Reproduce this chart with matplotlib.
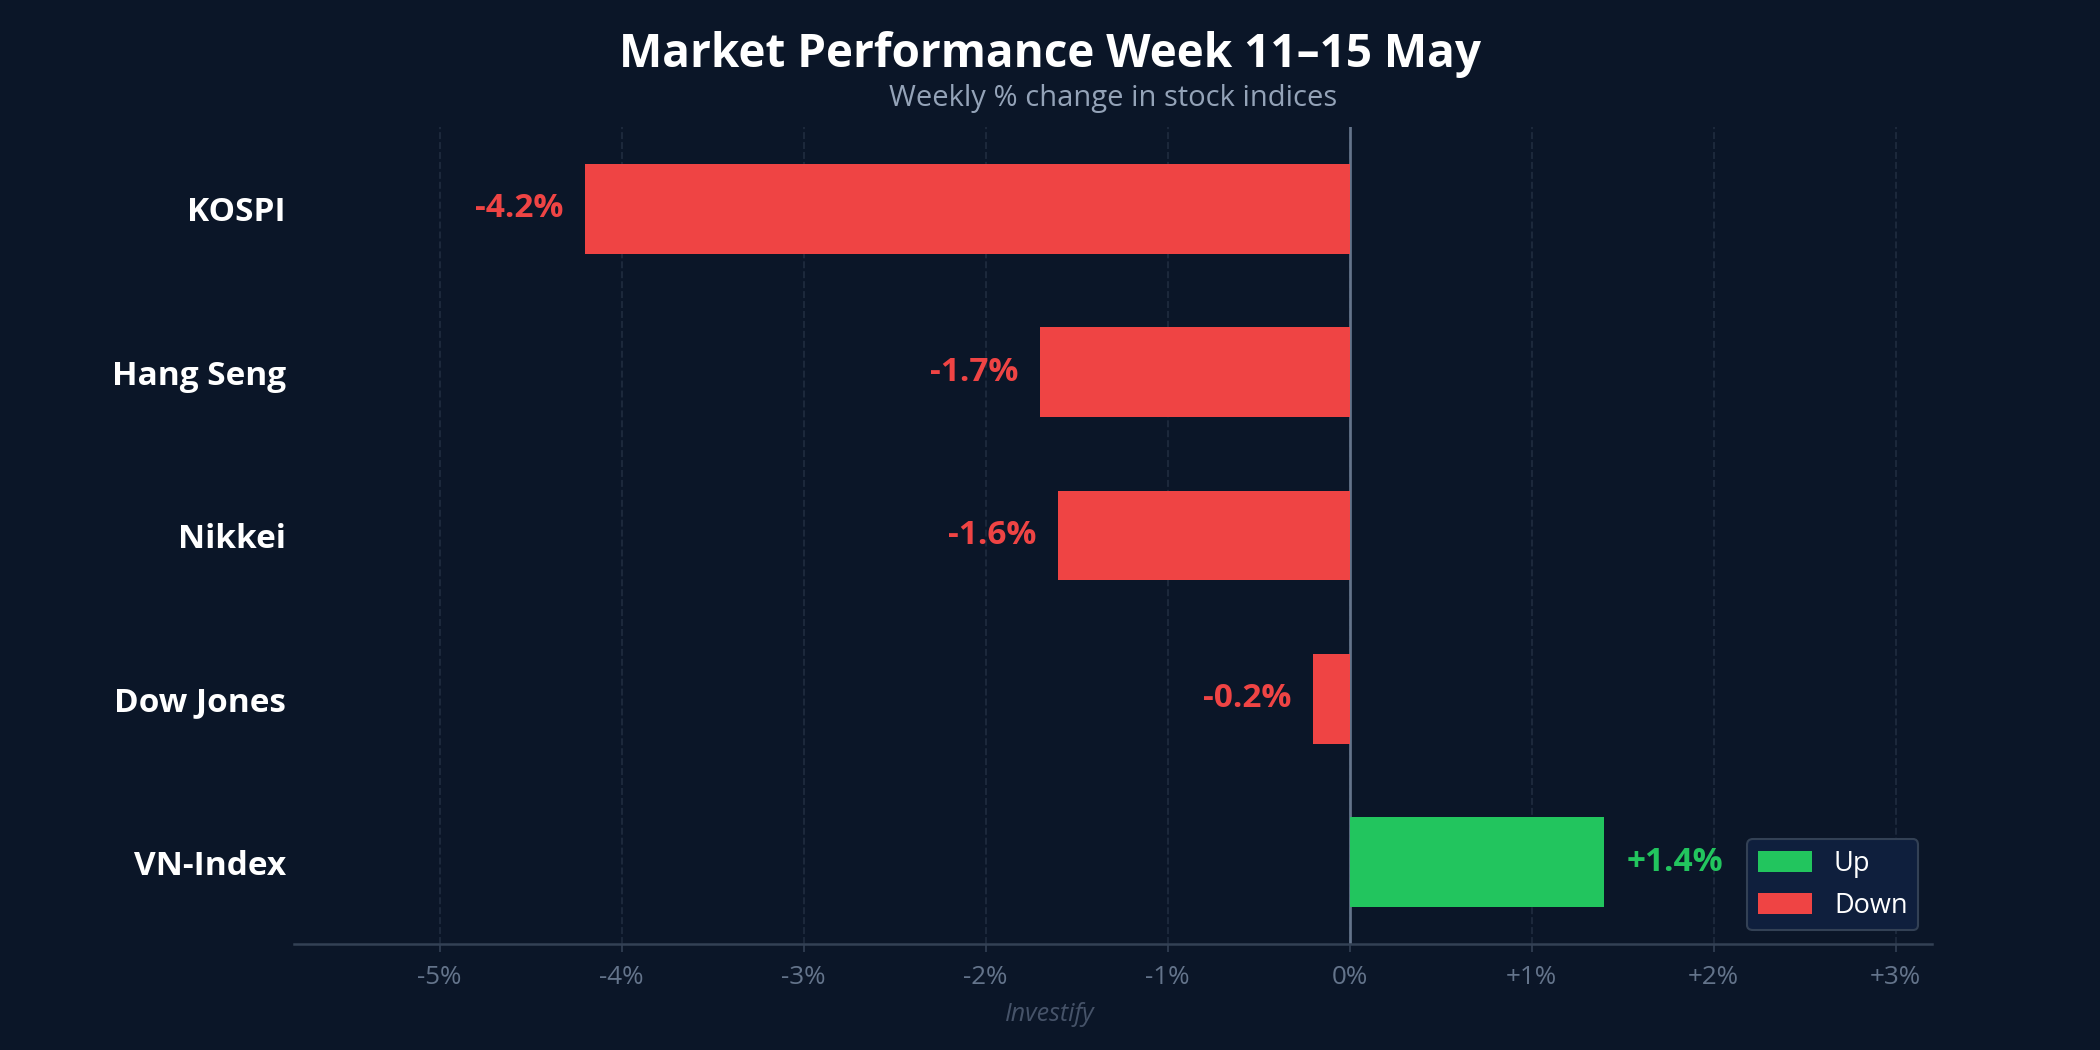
import matplotlib
matplotlib.use("Agg")
import matplotlib.pyplot as plt
from matplotlib.patches import Patch

plt.rcParams['font.family'] = ['Open Sans', 'DejaVu Sans']

# data (top to bottom as shown)
indices = ['KOSPI', 'Hang Seng', 'Nikkei', 'Dow Jones', 'VN-Index']
changes = [-4.2, -1.7, -1.6, -0.2, 1.4]
xticks = [-5, -4, -3, -2, -1, 0, 1, 2, 3]

BG = '#0b1628'
UP = '#22c55e'
DOWN = '#ef4444'

fig = plt.figure(figsize=(14, 7), dpi=150, facecolor=BG)
ax = fig.add_axes([0.140, 0.101, 0.780, 0.778], facecolor=BG)

ypos = list(range(len(indices)))[::-1]
colors = [UP if v >= 0 else DOWN for v in changes]
ax.barh(ypos, changes, height=0.55, color=colors, zorder=3)

for y, v in zip(ypos, changes):
    label = f'{v:+.1f}%'
    if v >= 0:
        ax.text(v + 0.12, y, label, ha='left', va='center', color=UP,
                fontsize=16, fontweight='bold', zorder=4)
    else:
        ax.text(v - 0.12, y, label, ha='right', va='center', color=DOWN,
                fontsize=16, fontweight='bold', zorder=4)

ax.axvline(0, color='#64748b', linewidth=1.3, zorder=2)

ax.set_xlim(-5.8, 3.2)
ax.set_ylim(-0.5, 4.5)
ax.set_xticks(xticks)
ax.set_xticklabels([('+' if t > 0 else '') + f'{t}%' for t in xticks])
ax.set_yticks(ypos)
ax.set_yticklabels(indices)

ax.tick_params(axis='x', colors='#334155', labelcolor='#64748b',
               labelsize=12.5, length=4, pad=6)
ax.tick_params(axis='y', length=0, pad=4, labelcolor='white', labelsize=16)
for lbl in ax.get_yticklabels():
    lbl.set_fontweight('bold')

ax.grid(axis='x', color='#1e2a3d', linestyle='--', linewidth=0.9, zorder=1)
ax.grid(axis='y', visible=False)

for s in ['top', 'right', 'left']:
    ax.spines[s].set_visible(False)
ax.spines['bottom'].set_color('#334155')
ax.spines['bottom'].set_linewidth(1.2)

handles = [Patch(facecolor=UP, label='Up'), Patch(facecolor=DOWN, label='Down')]
leg = ax.legend(handles=handles, loc='lower right', fontsize=13,
                facecolor='#0f1f3d', edgecolor='#334155', labelcolor='white',
                framealpha=1, handlelength=2.0, handleheight=0.8)

fig.suptitle('Market Performance Week 11\u201315 May', x=0.5, y=0.948,
             va='center', color='white', fontsize=22, fontweight='bold')
ax.set_title('Weekly % change in stock indices', color='#94a3b8',
             fontsize=14, pad=10)
fig.text(0.5, 0.034, 'Investify', ha='center', va='center', color='#465369',
         fontsize=12, style='italic')

fig.savefig('out.png', dpi=150, facecolor=BG)
